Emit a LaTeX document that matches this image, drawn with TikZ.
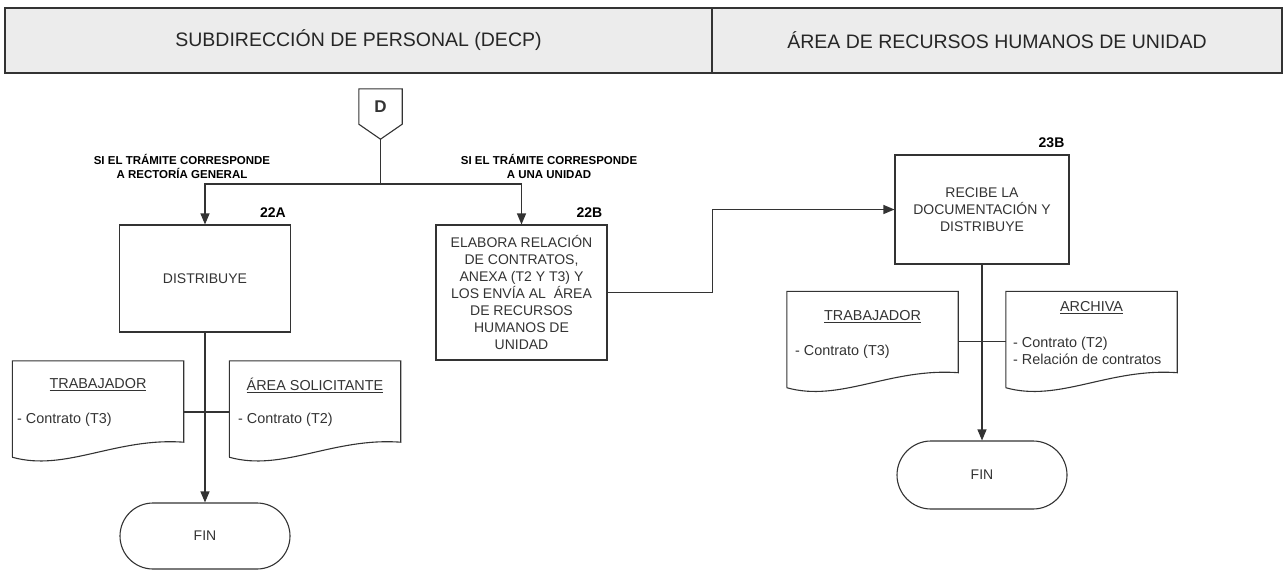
\documentclass[tikz,border=0pt]{standalone}
\usepackage{fontspec}
\setmainfont{Liberation Sans}
\usetikzlibrary{arrows.meta}
\definecolor{ink}{HTML}{333333}
\definecolor{hdrgray}{HTML}{ECECEC}
\tikzset{
  line/.style={draw=ink, line width=1.1pt},
  arr/.style={line, -{Triangle[length=11pt,width=9pt]}},
  lane/.style={line, line width=1.4pt, fill=hdrgray, minimum height=65pt, inner sep=0pt,
    text=black!85, font=\fontsize{19.5}{22}\selectfont},
  proc/.style={line, minimum width=171pt, inner sep=0pt, align=center, text=ink,
    font=\fontsize{14}{17}\selectfont},
  term/.style={line, rounded corners=33pt, minimum width=170pt, minimum height=66pt,
    text=ink, font=\fontsize{14}{14}\selectfont},
  stepno/.style={anchor=south east, inner sep=0pt, font=\fontsize{14}{14}\selectfont\bfseries},
  cond/.style={align=center, inner sep=0pt, font=\fontsize{11.5}{14}\selectfont\bfseries},
  docbox/.style={minimum width=171pt, minimum height=96pt, inner sep=0pt},
  doctitle/.style={inner sep=0pt, text=ink, font=\fontsize{14.4}{17}\selectfont},
  docitem/.style={anchor=west, inner sep=0pt, align=left, text=ink, font=\fontsize{14.4}{17}\selectfont}
}
% outline of a document symbol drawn round an empty node
\newcommand\docoutline[1]{%
  \draw[line] (#1.south west) -- (#1.north west) -- (#1.north east) -- ([yshift=15pt]#1.south east)
    .. controls ([xshift=-68pt,yshift=20pt]#1.south east) and ([xshift=53pt,yshift=-15pt]#1.south west) .. (#1.south west);}
\begin{document}
\begin{tikzpicture}[x=1pt,y=-1pt]
\useasboundingbox (0,0) rectangle (1284,571);

% header
\node[lane, minimum width=707pt] (lane1) at (358.5,40.5) {SUBDIRECCIÓN DE PERSONAL (DECP)};
\node[lane, minimum width=570pt] (lane2) at (997,40.5) {ÁREA DE RECURSOS HUMANOS DE UNIDAD};

% off-page connector
\node[inner sep=0pt, minimum width=43pt, minimum height=35pt, text=ink,
  font=\fontsize{17}{17}\selectfont\bfseries] (D) at (380.5,106.5) {D};
\draw[line] (D.south west) -- (D.north west) -- (D.north east) -- (D.south east)
  -- ([yshift=-15pt]D.south) coordinate (Dtip) -- cycle;

\node[cond] (condA) at (182,166) {SI EL TRÁMITE CORRESPONDE\\A RECTORÍA GENERAL};
\node[cond] (condB) at (549,166) {SI EL TRÁMITE CORRESPONDE\\A UNA UNIDAD};

% steps
\node[proc, minimum height=107pt] (b22A) at (205,278.5) {DISTRIBUYE};
\node[stepno] (n22A) at ([xshift=-5pt,yshift=7pt]b22A.north east) {22A};

\node[proc, minimum height=135pt] (b22B) at (521.5,292.5)
  {ELABORA RELACIÓN\\DE CONTRATOS,\\ANEXA (T2 Y T3) Y\\LOS ENVÍA AL~ ÁREA\\DE RECURSOS\\HUMANOS DE\\UNIDAD};
\node[stepno] (n22B) at ([xshift=-5pt,yshift=7pt]b22B.north east) {22B};

\node[proc, minimum width=174pt, minimum height=109pt] (b23B) at (982,209.5)
  {RECIBE LA\\DOCUMENTACIÓN Y\\DISTRIBUYE};
\node[stepno] (n23B) at ([xshift=-5pt,yshift=7pt]b23B.north east) {23B};

% documents
\node[docbox] (dL1) at (98,409) {};
\node[docbox] (dL2) at (315,409) {};
\node[docbox] (dR1) at (872.5,339.5) {};
\node[docbox] (dR2) at (1091.5,339.5) {};
\docoutline{dL1}
\docoutline{dL2}
\docoutline{dR1}
\docoutline{dR2}

\node[doctitle] (tL1) at (98,385) {\underline{TRABAJADOR}};
\node[docitem] (iL1) at (17,420) {- Contrato (T3)};
\node[doctitle] (tL2) at (315,385) {\underline{ÁREA SOLICITANTE}};
\node[docitem] (iL2) at (238,420) {- Contrato (T2)};
\node[doctitle] (tR1) at (872.5,317) {\underline{TRABAJADOR}};
\node[docitem] (iR1) at (795,352) {- Contrato (T3)};
\node[doctitle] (tR2) at (1091.5,308) {\underline{ARCHIVA}};
\node[docitem] (iR2) at (1013,350.5) {- Contrato (T2)\\- Relación de contratos};

% terminals
\node[term] (finA) at (205,536) {FIN};
\node[term, minimum height=68pt, rounded corners=34pt] (finB) at (982,475) {FIN};

% connectors
\draw[line] (Dtip) -- (Dtip |- 0,184) coordinate (split);
\draw[arr] (split) -| (b22A.north);
\draw[arr] (split) -| (b22B.north);
\draw[arr] (b22B.east) -- ++(105,0) |- (b23B.west);
\draw[line] ([yshift=-3pt]dL1.east) -- ([yshift=-3pt]dL2.west);
\draw[line] ([yshift=-2pt]dR1.east) -- ([yshift=-2pt]dR2.west);
\draw[arr] (b22A.south) -- (finA.north);
\draw[arr] (b23B.south) -- (finB.north);
\end{tikzpicture}
\end{document}
